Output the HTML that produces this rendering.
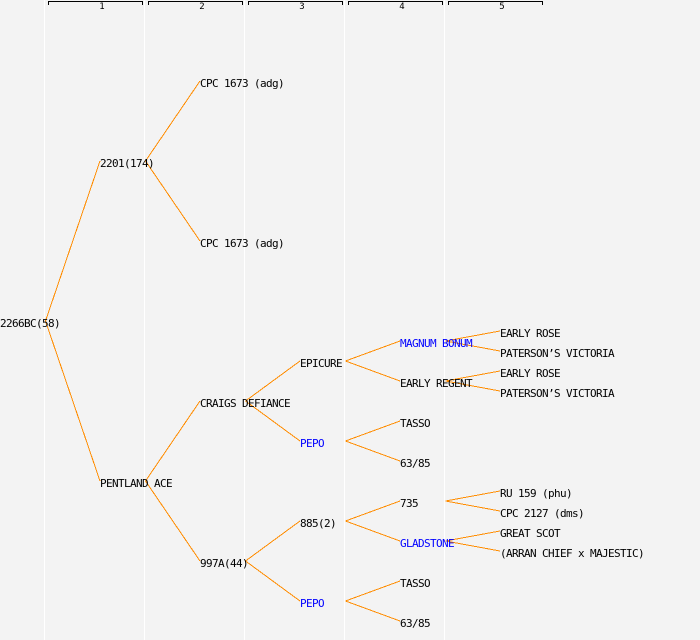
<!DOCTYPE html>
<html><head><meta charset="utf-8"><style>
html,body{margin:0;padding:0;background:#f3f3f3;}
svg{display:block;}
text{font-family:"DejaVu Sans Mono","Liberation Mono",monospace;font-size:11px;letter-spacing:-0.62px;fill:#000;}
text.b{fill:#0000ff;}
text.h{font-size:9px;letter-spacing:0;text-anchor:middle;}
line.o{stroke:#ff8c00;stroke-width:1;}
</style></head><body>
<svg width="700" height="640" viewBox="0 0 700 640" xmlns="http://www.w3.org/2000/svg">
<rect x="0" y="0" width="700" height="640" fill="#f3f3f3"/>
<g stroke="#ffffff" stroke-width="1">
<line x1="44.5" y1="0" x2="44.5" y2="640"/>
<line x1="144.5" y1="0" x2="144.5" y2="640"/>
<line x1="244.5" y1="0" x2="244.5" y2="640"/>
<line x1="344.5" y1="0" x2="344.5" y2="640"/>
<line x1="444.5" y1="0" x2="444.5" y2="640"/>
</g>
<g stroke="#000" stroke-width="1" fill="none" shape-rendering="crispEdges">
<path d="M48.5 5V1.5H142.5V5"/>
<path d="M148.5 5V1.5H242.5V5"/>
<path d="M248.5 5V1.5H342.5V5"/>
<path d="M348.5 5V1.5H442.5V5"/>
<path d="M448.5 5V1.5H542.5V5"/>
</g>
<text class="h" x="102" y="9">1</text>
<text class="h" x="202" y="9">2</text>
<text class="h" x="302" y="9">3</text>
<text class="h" x="402" y="9">4</text>
<text class="h" x="502" y="9">5</text>

<g shape-rendering="crispEdges">
<!-- root -->
<line class="o" x1="45.5" y1="321" x2="100" y2="161"/>
<line class="o" x1="45.5" y1="321" x2="100" y2="481"/>
<!-- 2201 -->
<line class="o" x1="145.5" y1="161" x2="200" y2="81"/>
<line class="o" x1="145.5" y1="161" x2="200" y2="241"/>
<!-- pentland -->
<line class="o" x1="145.5" y1="481" x2="200" y2="401"/>
<line class="o" x1="145.5" y1="481" x2="200" y2="561"/>
<!-- craigs -->
<line class="o" x1="245.5" y1="401" x2="300" y2="361"/>
<line class="o" x1="245.5" y1="401" x2="300" y2="441"/>
<!-- 997A -->
<line class="o" x1="245.5" y1="561" x2="300" y2="521"/>
<line class="o" x1="245.5" y1="561" x2="300" y2="601"/>
<!-- epicure -->
<line class="o" x1="345.5" y1="361" x2="400" y2="341"/>
<line class="o" x1="345.5" y1="361" x2="400" y2="381"/>
<!-- pepo -->
<line class="o" x1="345.5" y1="441" x2="400" y2="421"/>
<line class="o" x1="345.5" y1="441" x2="400" y2="461"/>
<!-- 885 -->
<line class="o" x1="345.5" y1="521" x2="400" y2="501"/>
<line class="o" x1="345.5" y1="521" x2="400" y2="541"/>
<!-- pepo 2 -->
<line class="o" x1="345.5" y1="601" x2="400" y2="581"/>
<line class="o" x1="345.5" y1="601" x2="400" y2="621"/>
<!-- magnum -->
<line class="o" x1="445.5" y1="341" x2="500" y2="331"/>
<line class="o" x1="445.5" y1="341" x2="500" y2="351"/>
<!-- early regent -->
<line class="o" x1="445.5" y1="381" x2="500" y2="371"/>
<line class="o" x1="445.5" y1="381" x2="500" y2="391"/>
<!-- 735 -->
<line class="o" x1="445.5" y1="501" x2="500" y2="491"/>
<line class="o" x1="445.5" y1="501" x2="500" y2="511"/>
<!-- gladstone -->
<line class="o" x1="445.5" y1="541" x2="500" y2="531"/>
<line class="o" x1="445.5" y1="541" x2="500" y2="551"/>
</g>

<text x="0" y="327">2266BC(58)</text>
<text x="100" y="167">2201(174)</text>
<text x="100" y="487">PENTLAND ACE</text>
<text x="200" y="87">CPC 1673 (adg)</text>
<text x="200" y="247">CPC 1673 (adg)</text>
<text x="200" y="407">CRAIGS DEFIANCE</text>
<text x="200" y="567">997A(44)</text>
<text x="300" y="367">EPICURE</text>
<text class="b" x="300" y="447">PEPO</text>
<text x="300" y="527">885(2)</text>
<text class="b" x="300" y="607">PEPO</text>
<text class="b" x="400" y="347">MAGNUM BONUM</text>
<text x="400" y="387">EARLY REGENT</text>
<text x="400" y="427">TASSO</text>
<text x="400" y="467">63/85</text>
<text x="400" y="507">735</text>
<text class="b" x="400" y="547">GLADSTONE</text>
<text x="400" y="587">TASSO</text>
<text x="400" y="627">63/85</text>
<text x="500" y="337">EARLY ROSE</text>
<text x="500" y="357">PATERSON’S VICTORIA</text>
<text x="500" y="377">EARLY ROSE</text>
<text x="500" y="397">PATERSON’S VICTORIA</text>
<text x="500" y="497">RU 159 (phu)</text>
<text x="500" y="517">CPC 2127 (dms)</text>
<text x="500" y="537">GREAT SCOT</text>
<text x="500" y="557">(ARRAN CHIEF x MAJESTIC)</text>
</svg>
</body></html>
